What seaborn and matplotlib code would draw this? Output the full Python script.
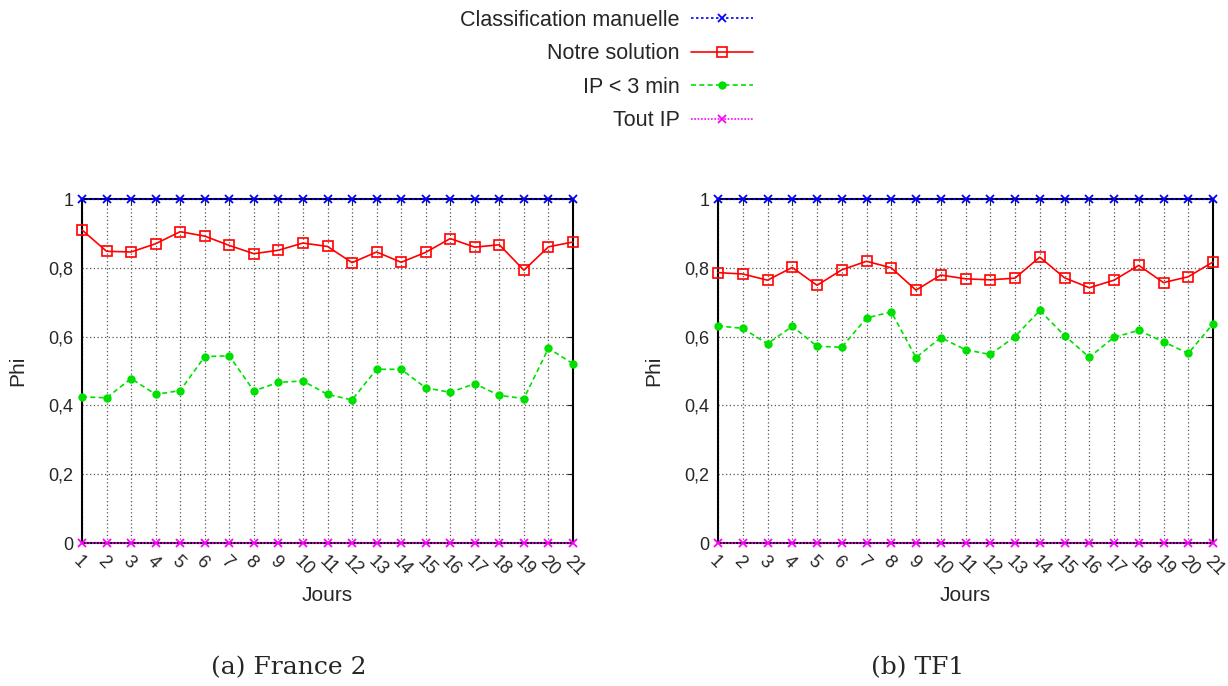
import matplotlib
matplotlib.use("Agg")
import matplotlib.pyplot as plt
import seaborn as sns
import pandas as pd

# Data
days = list(range(1, 22))
day_labels = [str(d) for d in days]
series_names = ["Classification manuelle", "Notre solution", "IP < 3 min", "Tout IP"]

manuelle = [1.0] * 21
tout_ip = [0.0] * 21

f2_solution = [0.910, 0.848, 0.846, 0.870, 0.905, 0.892, 0.865, 0.841, 0.851, 0.872, 0.862,
               0.815, 0.846, 0.816, 0.845, 0.885, 0.860, 0.867, 0.793, 0.861, 0.875]
f2_ip3 = [0.425, 0.422, 0.478, 0.432, 0.443, 0.542, 0.544, 0.442, 0.467, 0.471, 0.432,
          0.416, 0.505, 0.505, 0.451, 0.438, 0.463, 0.429, 0.420, 0.566, 0.521]

tf1_solution = [0.786, 0.782, 0.764, 0.801, 0.749, 0.794, 0.819, 0.800, 0.735, 0.779, 0.768,
                0.765, 0.770, 0.831, 0.771, 0.742, 0.764, 0.807, 0.757, 0.774, 0.817]
tf1_ip3 = [0.631, 0.624, 0.579, 0.630, 0.572, 0.569, 0.654, 0.672, 0.539, 0.597, 0.562,
           0.548, 0.600, 0.676, 0.603, 0.540, 0.598, 0.618, 0.585, 0.551, 0.637]

y_ticks = [0, 0.2, 0.4, 0.6, 0.8, 1]
y_labels = ["0", "0,2", "0,4", "0,6", "0,8", "1"]
captions = ["(a) France 2", "(b) TF1"]
caption_x = [289 / 1228, 918 / 1228]

sns.set_style("white")
plt.rcParams['font.family'] = ['Liberation Sans', 'DejaVu Sans']

styles = {
    "Classification manuelle": dict(color="#0000ff", linestyle=(0, (1.5, 1.5)), marker="x",
                                    markersize=6, markeredgewidth=1.3,
                                    markeredgecolor="#0000ff"),
    "Notre solution": dict(color="#ff0000", linestyle="-", marker="s", markersize=7,
                           markerfacecolor="none", markeredgewidth=1.2,
                           markeredgecolor="#ff0000"),
    "IP < 3 min": dict(color="#00e000", linestyle=(0, (3, 2)), marker="o", markersize=6,
                       markeredgewidth=0, markeredgecolor="#00e000"),
    "Tout IP": dict(color="#ff00ff", linestyle=(0, (1, 1)), marker="x", markersize=6,
                    markeredgewidth=1.3, markeredgecolor="#ff00ff"),
}

fig = plt.figure(figsize=(12.28, 6.86), dpi=100)
ax1 = fig.add_axes([82 / 1228, 1 - 543 / 686, 491 / 1228, 344 / 686])
ax2 = fig.add_axes([718 / 1228, 1 - 543 / 686, 495 / 1228, 344 / 686])

panels = [(ax1, f2_solution, f2_ip3), (ax2, tf1_solution, tf1_ip3)]
for i, (ax, sol, ip3) in enumerate(panels):
    df = pd.DataFrame({"Jours": days,
                       series_names[0]: manuelle,
                       series_names[1]: sol,
                       series_names[2]: ip3,
                       series_names[3]: tout_ip})
    for name in series_names:
        sns.lineplot(data=df, x="Jours", y=name, ax=ax, label=name, linewidth=1.2,
                     clip_on=False, zorder=5, **styles[name])
    ax.set_xlim(1, 21)
    ax.set_ylim(0, 1)
    ax.set_xticks(days)
    ax.set_xticklabels(day_labels, rotation=-45, ha="left", va="top",
                       rotation_mode="anchor", fontsize=13)
    ax.set_yticks(y_ticks)
    ax.set_yticklabels(y_labels, fontsize=13)
    ax.tick_params(axis="x", pad=7, length=4, direction="in", top=True)
    ax.tick_params(axis="y", pad=6, length=4, direction="in", right=True)
    ax.grid(True, color="#555555", linestyle=(0, (1, 2)), linewidth=0.9)
    for sp in ax.spines.values():
        sp.set_color("black")
        sp.set_linewidth(1.5)
    ax.set_xlabel("Jours", fontsize=15, labelpad=5)
    ax.set_ylabel("Phi", fontsize=15, labelpad=15)
    ax.get_legend().remove()
    fig.text(caption_x[i], 1 - 668 / 686, captions[i], ha="center", va="center",
             fontsize=18, family="DejaVu Serif")

handles, labels = ax1.get_legend_handles_labels()
fig.legend(handles, labels, loc="upper center", bbox_to_anchor=(0.494, 1.014), frameon=False,
           markerfirst=False, fontsize=15.5, handlelength=2.9, labelspacing=0.58,
           handletextpad=0.5)

fig.savefig("out.png", dpi=100)
